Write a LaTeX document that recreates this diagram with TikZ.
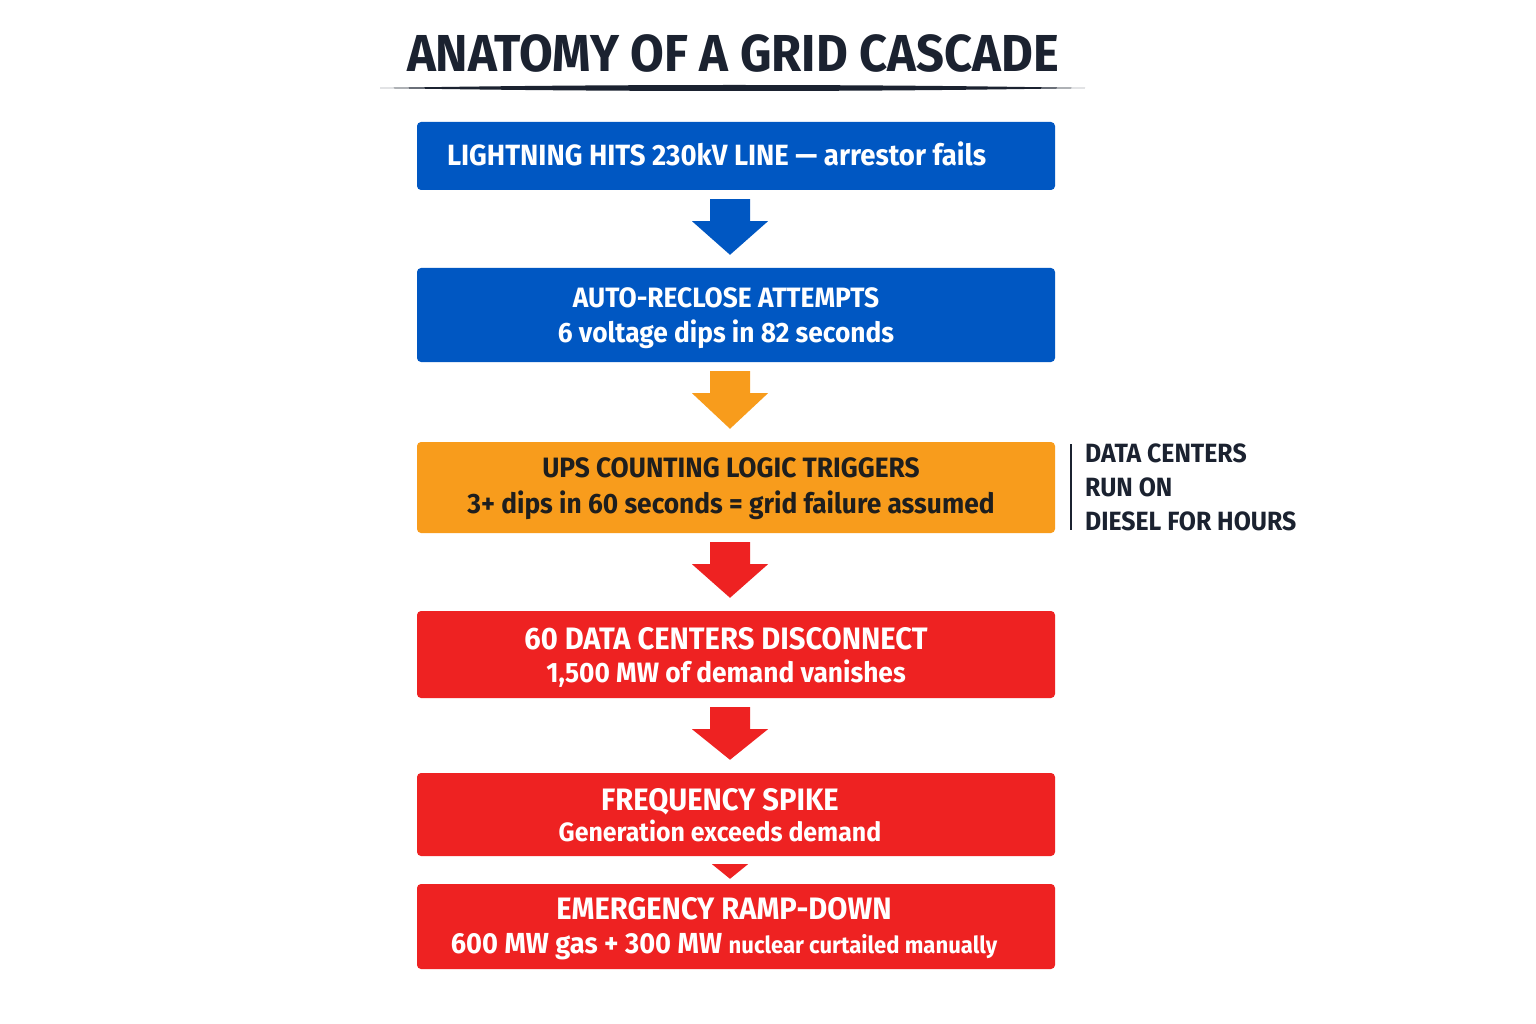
\documentclass[tikz,border=0pt]{standalone}
\usepackage{fontspec}
\setmainfont{Fira Sans}[FakeStretch=0.94]
\usetikzlibrary{calc}
\definecolor{cblue}{HTML}{0057C2}
\definecolor{corange}{HTML}{F89C1C}
\definecolor{cred}{HTML}{EE2222}
\definecolor{cdark}{HTML}{1B2230}
\definecolor{ctext}{HTML}{1E1E1E}
\tikzset{
  stepbox/.style={rounded corners=4pt, minimum width=638pt, inner sep=0pt},
  bluebox/.style={stepbox, fill=cblue},
  orangebox/.style={stepbox, fill=corange},
  redbox/.style={stepbox, fill=cred},
  steptext/.style={inner sep=0pt, align=center, text=white,
    font=\bfseries\fontsize{28}{35}\selectfont},
  sidetext/.style={anchor=west, align=left, text=cdark, inner sep=0pt,
    font=\bfseries\fontsize{26.4}{34}\selectfont},
  titletext/.style={text=cdark, inner sep=0pt, font=\bfseries\fontsize{52}{60}\selectfont}
}
\newcommand\flowarrow[3]{%
  \fill[#3] ($(#1.south)+(-26,9)$) -- ($(#1.south)+(14,9)$) -- ($(#1.south)+(14,31)$)
    -- ($(#1.south)+(32,31)$) -- ($(#2.north)+(-6,-13)$) -- ($(#1.south)+(-44,31)$)
    -- ($(#1.south)+(-26,31)$) -- cycle;}
\newcommand\myheadline[1]{{\fontsize{31}{33}\selectfont #1}}
\begin{document}
\begin{tikzpicture}[x=1pt,y=-1pt]
\useasboundingbox[fill=white] (0,0) rectangle (1536,1024);
% title
\node[titletext] (title) at (733,53) {ANATOMY OF A GRID CASCADE};
\fill[cdark] (380,88) .. controls (600,84) and (870,84) .. (1085,88)
  .. controls (870,92) and (600,92) .. (380,88) -- cycle;
% boxes
\node[bluebox, minimum height=68pt] (b1) at (736,156) {};
\node[bluebox, minimum height=94pt] (b2) at (736,315) {};
\node[orangebox, minimum height=91pt] (b3) at (736,487.5) {};
\node[redbox, minimum height=87pt] (b4) at (736,654.5) {};
\node[redbox, minimum height=83pt] (b5) at (736,814.5) {};
\node[redbox, minimum height=85pt] (b6) at (736,926.5) {};
% texts
\node[steptext, anchor=west, font=\bfseries\fontsize{29.3}{35}\selectfont] (t1) at ($(b1.west)+(30,-2)$)
  {LIGHTNING HITS 230kV LINE — arrestor fails};
\node[steptext] (t2) at ($(b2)+(-10,3)$) {AUTO-RECLOSE ATTEMPTS\\6 voltage dips in 82 seconds};
\node[steptext, text=ctext, font=\bfseries\fontsize{28}{36}\selectfont] (t3) at ($(b3)+(-5,1)$)
  {UPS COUNTING LOGIC TRIGGERS\\3+ dips in 60 seconds = grid failure assumed};
\node[steptext, font=\bfseries\fontsize{28}{33}\selectfont] (t4) at ($(b4)+(-10,3)$)
  {\myheadline{60 DATA CENTERS DISCONNECT}\\1,500 MW of demand vanishes};
\node[steptext, font=\bfseries\fontsize{26.5}{31}\selectfont] (t5) at ($(b5)+(-16,1)$)
  {\myheadline{FREQUENCY SPIKE}\\Generation exceeds demand};
\node[steptext, font=\bfseries\fontsize{29}{34}\selectfont] (t6) at ($(b6)+(-12,2)$)
  {\myheadline{EMERGENCY RAMP-DOWN}\\600 MW gas + 300 MW {\fontsize{23.5}{34}\selectfont nuclear curtailed manually}};
% arrows
\flowarrow{b1}{b2}{cblue}
\flowarrow{b2}{b3}{corange}
\flowarrow{b3}{b4}{cred}
\flowarrow{b4}{b5}{cred}
\fill[cred] ($(b5.south)+(-24,8)$) -- ($(b5.south)+(12,8)$) -- ($(b6.north)+(-6,-5)$) -- cycle;
% side note
\coordinate (s1) at (1071,444);
\coordinate (s2) at (1071,530);
\draw[line width=1.5pt, draw=cdark] (s1) -- (s2);
\node[sidetext] (side) at (1085,487) {DATA CENTERS\\RUN ON\\DIESEL FOR HOURS};
\end{tikzpicture}
\end{document}
